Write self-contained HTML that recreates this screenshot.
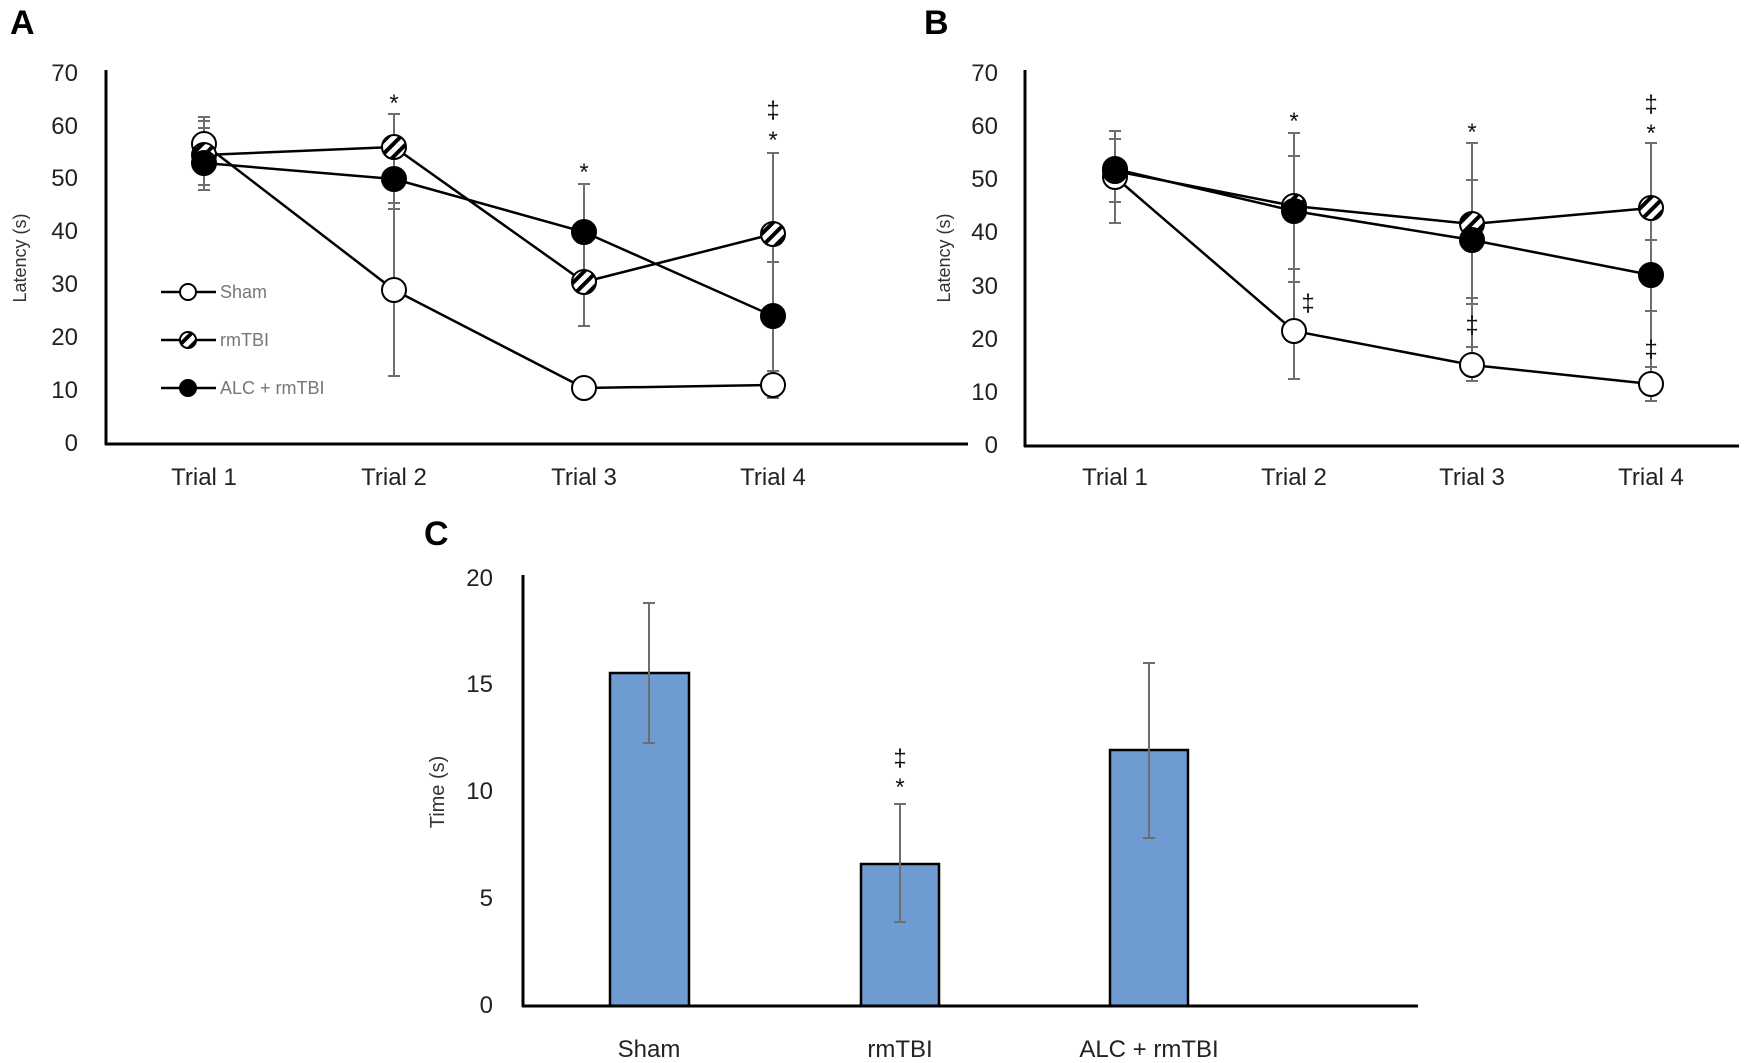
<!DOCTYPE html>
<html><head><meta charset="utf-8"><style>
html,body{margin:0;padding:0;background:#fff}
svg{display:block;font-family:"Liberation Sans",sans-serif}
.t{font-size:24px;fill:#222}
.e{stroke:#6e6e6e;stroke-width:2;fill:none}
.l{stroke:#000;stroke-width:2.5;fill:none}
.m{stroke:#000;stroke-width:2}
.s{font-size:24px;fill:#111;text-anchor:middle}
</style></head><body>
<svg width="1748" height="1063" viewBox="0 0 1748 1063">
<defs>
<pattern id="h" patternUnits="userSpaceOnUse" width="9" height="9" patternTransform="rotate(45)">
<rect width="9" height="9" fill="#fff"/><rect width="4" height="9" fill="#000"/></pattern>
</defs>
<!-- Panel A -->
<text x="10" y="34" font-size="34" font-weight="bold">A</text>
<g class="t" text-anchor="end">
<text x="78" y="451">0</text><text x="78" y="398">10</text><text x="78" y="345">20</text><text x="78" y="292">30</text><text x="78" y="239">40</text><text x="78" y="186">50</text><text x="78" y="134">60</text><text x="78" y="81">70</text></g>
<text transform="translate(26,258) rotate(-90)" text-anchor="middle" font-size="18" fill="#333">Latency (s)</text>
<line x1="106" y1="70" x2="106" y2="445" stroke="#000" stroke-width="3"/>
<line x1="105" y1="444" x2="968" y2="444" stroke="#000" stroke-width="3"/>
<g class="t" text-anchor="middle"><text x="204" y="485">Trial 1</text><text x="394" y="485">Trial 2</text><text x="584" y="485">Trial 3</text><text x="773" y="485">Trial 4</text></g>
<g class="e">
<line x1="204" y1="117" x2="204" y2="190"/><path d="M198 117h12M198 121h12M198 128h12M198 185h12M198 190h12"/>
<line x1="394" y1="114" x2="394" y2="376"/><path d="M388 114h12M388 203h12M388 209h12M388 376h12"/>
<line x1="584" y1="184" x2="584" y2="326"/><path d="M578 184h12M578 326h12M578 383h12M578 396h12"/>
<line x1="773" y1="153" x2="773" y2="398"/><path d="M767 153h12M767 262h12M767 371h12M767 398h12"/>
</g>
<polyline class="l" points="204,144 394,290 584,388 773,385"/>
<polyline class="l" points="204,155 394,147 584,282 773,234"/>
<polyline class="l" points="204,163 394,179 584,232 773,316"/>
<g class="m">
<circle cx="204" cy="144" r="12" fill="#fff"/><circle cx="394" cy="290" r="12" fill="#fff"/><circle cx="584" cy="388" r="12" fill="#fff"/><circle cx="773" cy="385" r="12" fill="#fff"/>
<circle cx="204" cy="155" r="12" fill="url(#h)"/><circle cx="394" cy="147" r="12" fill="url(#h)"/><circle cx="584" cy="282" r="12" fill="url(#h)"/><circle cx="773" cy="234" r="12" fill="url(#h)"/>
<circle cx="204" cy="163" r="12" fill="#000"/><circle cx="394" cy="179" r="12" fill="#000"/><circle cx="584" cy="232" r="12" fill="#000"/><circle cx="773" cy="316" r="12" fill="#000"/>
</g>
<g class="s"><text x="394" y="111">*</text><text x="584" y="180">*</text><text x="773" y="118">‡</text><text x="773" y="148">*</text></g>
<!-- legend -->
<g class="l"><line x1="161" y1="292" x2="216" y2="292"/><line x1="161" y1="340" x2="216" y2="340"/><line x1="161" y1="388" x2="216" y2="388"/></g>
<g class="m"><circle cx="188" cy="292" r="8" fill="#fff"/><circle cx="188" cy="340" r="8" fill="url(#h)"/><circle cx="188" cy="388" r="8" fill="#000"/></g>
<g font-size="18" fill="#777"><text x="220" y="298">Sham</text><text x="220" y="346">rmTBI</text><text x="220" y="394">ALC + rmTBI</text></g>

<!-- Panel B -->
<text x="924" y="34" font-size="34" font-weight="bold">B</text>
<g class="t" text-anchor="end">
<text x="998" y="453">0</text><text x="998" y="400">10</text><text x="998" y="347">20</text><text x="998" y="294">30</text><text x="998" y="240">40</text><text x="998" y="187">50</text><text x="998" y="134">60</text><text x="998" y="81">70</text></g>
<text transform="translate(950,258) rotate(-90)" text-anchor="middle" font-size="18" fill="#333">Latency (s)</text>
<line x1="1025" y1="70" x2="1025" y2="447" stroke="#000" stroke-width="3"/>
<line x1="1024" y1="446" x2="1739" y2="446" stroke="#000" stroke-width="3"/>
<g class="t" text-anchor="middle"><text x="1115" y="485">Trial 1</text><text x="1294" y="485">Trial 2</text><text x="1472" y="485">Trial 3</text><text x="1651" y="485">Trial 4</text></g>
<g class="e">
<line x1="1115" y1="131" x2="1115" y2="223"/><path d="M1109 131h12M1109 139h12M1109 202h12M1109 223h12"/>
<line x1="1294" y1="133" x2="1294" y2="379"/><path d="M1288 133h12M1288 156h12M1288 269h12M1288 282h12M1288 379h12"/>
<line x1="1472" y1="143" x2="1472" y2="381"/><path d="M1466 143h12M1466 180h12M1466 298h12M1466 304h12M1466 347h12M1466 381h12"/>
<line x1="1651" y1="143" x2="1651" y2="401"/><path d="M1645 143h12M1645 240h12M1645 311h12M1645 367h12M1645 401h12"/>
</g>
<polyline class="l" points="1115,177 1294,331 1472,365 1651,384"/>
<polyline class="l" points="1115,171 1294,206 1472,224 1651,208"/>
<polyline class="l" points="1115,169 1294,211 1472,240 1651,275"/>
<g class="m">
<circle cx="1115" cy="177" r="12" fill="#fff"/><circle cx="1294" cy="331" r="12" fill="#fff"/><circle cx="1472" cy="365" r="12" fill="#fff"/><circle cx="1651" cy="384" r="12" fill="#fff"/>
<circle cx="1115" cy="171" r="12" fill="url(#h)"/><circle cx="1294" cy="206" r="12" fill="url(#h)"/><circle cx="1472" cy="224" r="12" fill="url(#h)"/><circle cx="1651" cy="208" r="12" fill="url(#h)"/>
<circle cx="1115" cy="169" r="12" fill="#000"/><circle cx="1294" cy="211" r="12" fill="#000"/><circle cx="1472" cy="240" r="12" fill="#000"/><circle cx="1651" cy="275" r="12" fill="#000"/>
</g>
<g class="s"><text x="1294" y="129">*</text><text x="1308" y="311">‡</text><text x="1472" y="140">*</text><text x="1472" y="333">‡</text><text x="1651" y="112">‡</text><text x="1651" y="141">*</text><text x="1651" y="357">‡</text></g>

<!-- Panel C -->
<text x="424" y="545" font-size="34" font-weight="bold">C</text>
<g class="t" text-anchor="end">
<text x="493" y="1013">0</text><text x="493" y="906">5</text><text x="493" y="799">10</text><text x="493" y="692">15</text><text x="493" y="586">20</text></g>
<text transform="translate(444,792) rotate(-90)" text-anchor="middle" font-size="20" fill="#333">Time (s)</text>
<g fill="#6f9bd3" stroke="#000" stroke-width="2.5">
<rect x="610" y="673" width="79" height="333"/><rect x="861" y="864" width="78" height="142"/><rect x="1110" y="750" width="78" height="256"/></g>
<line x1="523" y1="575" x2="523" y2="1007" stroke="#000" stroke-width="3"/>
<line x1="522" y1="1006" x2="1418" y2="1006" stroke="#000" stroke-width="3"/>
<g class="e">
<line x1="649" y1="603" x2="649" y2="743"/><path d="M643 603h12M643 743h12"/>
<line x1="900" y1="804" x2="900" y2="922"/><path d="M894 804h12M894 922h12"/>
<line x1="1149" y1="663" x2="1149" y2="838"/><path d="M1143 663h12M1143 838h12"/>
</g>
<g class="s"><text x="900" y="766">‡</text><text x="900" y="795">*</text></g>
<g class="t" text-anchor="middle"><text x="649" y="1057">Sham</text><text x="900" y="1057">rmTBI</text><text x="1149" y="1057">ALC + rmTBI</text></g>
</svg>
</body></html>
